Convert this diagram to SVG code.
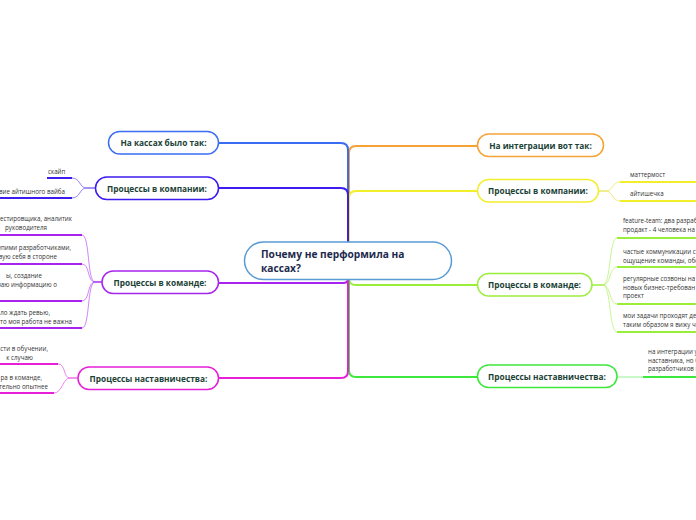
<svg xmlns="http://www.w3.org/2000/svg" width="696" height="520" viewBox="0 0 696 520">
<style>
.bg{fill:#ffffff}
.pill{fill:#ffffff;stroke-width:1.5}
.lbl{font-family:"Open Sans","Liberation Sans",sans-serif;font-weight:bold;font-size:8.3px;fill:#1b4236;text-anchor:middle}
.ctr{font-family:"Open Sans","Liberation Sans",sans-serif;font-weight:bold;font-size:10.2px;fill:#1c2a4e}
.sub{font-family:"Open Sans","Liberation Sans",sans-serif;font-size:6.2px;fill:#333333}
.end{text-anchor:end}
.trunk{fill:none;stroke-width:2}
.thin{fill:none;stroke-width:1;stroke-opacity:0.55}
.ul{fill:none;stroke-width:2}
</style>
<rect class="bg" x="0" y="0" width="696" height="520"/>

<g id="connectors">
  <!-- right main branches -->
  <path class="trunk" stroke="#f7a236" d="M349,242 V153 Q349,146 356,146 H477"/>
  <path class="trunk" stroke="#f2ee2a" d="M349,242 V198 Q349,191 356,191 H477"/>
  <path class="trunk" stroke="#9aee3a" d="M349,279 Q349,285 356,285 H477"/>
  <path class="trunk" stroke="#3ce83c" d="M349,279 V370 Q349,377 356,377 H477"/>
  <!-- left main branches -->
  <path class="trunk" stroke="#3a6cf4" d="M218,143 H341 Q348,143 348,150 V242"/>
  <path class="trunk" stroke="#3c1cf0" d="M218,188 H341 Q348,188 348,195 V242"/>
  <path class="trunk" stroke="#a824ee" d="M218,283 H343 Q348,283 348,279"/>
  <path class="trunk" stroke="#e81fd8" d="M218,378 H341 Q348,378 348,371 V279"/>

  <!-- left: компании subtopics -->
  <path class="thin" stroke="#3c1cf0" d="M95,188 H86 C80,188 80,178 72,178"/>
  <path class="thin" stroke="#3c1cf0" d="M95,188 H86 C80,188 80,198 72,198"/>
  <path class="ul" stroke="#3c1cf0" d="M47,178 H72"/>
  <path class="ul" stroke="#3c1cf0" d="M0,198 H72"/>

  <!-- left: команде subtopics -->
  <path class="thin" stroke="#a824ee" d="M102,282 H95 C87,282 90,235 82,235"/>
  <path class="thin" stroke="#a824ee" d="M102,282 H95 C87,282 90,264 82,264"/>
  <path class="thin" stroke="#a824ee" d="M102,282 H95 C87,282 90,301 82,301"/>
  <path class="thin" stroke="#a824ee" d="M102,282 H95 C87,282 90,328 82,328"/>
  <path class="ul" stroke="#a824ee" d="M0,235 H82"/>
  <path class="ul" stroke="#a824ee" d="M0,264 H82"/>
  <path class="ul" stroke="#a824ee" d="M0,301 H82"/>
  <path class="ul" stroke="#a824ee" d="M0,328 H82"/>

  <!-- left: наставничества subtopics -->
  <path class="thin" stroke="#e81fd8" d="M78,378 H70 C63,378 66,364 58,364"/>
  <path class="thin" stroke="#e81fd8" d="M78,378 H70 C63,378 62,393 54,393"/>
  <path class="ul" stroke="#e81fd8" d="M0,364 H58"/>
  <path class="ul" stroke="#e81fd8" d="M0,393 H54"/>

  <!-- right: компании subtopics -->
  <path class="thin" stroke="#e0dc10" d="M599,191 H606 C613,191 612,182 620,182"/>
  <path class="thin" stroke="#e0dc10" d="M599,191 H606 C613,191 612,201 620,201"/>
  <path class="ul" stroke="#f2ee2a" d="M620,182 H696"/>
  <path class="ul" stroke="#f2ee2a" d="M620,201 H696"/>

  <!-- right: команде subtopics -->
  <path class="thin" stroke="#9aee3a" d="M592,285 H603 C611,285 609,238 617,238"/>
  <path class="thin" stroke="#9aee3a" d="M592,285 H603 C611,285 609,267 617,267"/>
  <path class="thin" stroke="#9aee3a" d="M592,285 H603 C611,285 609,304 617,304"/>
  <path class="thin" stroke="#9aee3a" d="M592,285 H603 C611,285 609,332 617,332"/>
  <path class="ul" stroke="#9aee3a" d="M617,238 H696"/>
  <path class="ul" stroke="#9aee3a" d="M617,267 H696"/>
  <path class="ul" stroke="#9aee3a" d="M617,304 H696"/>
  <path class="ul" stroke="#9aee3a" d="M617,332 H696"/>

  <!-- right: наставничества subtopic -->
  <path class="thin" stroke="#3ce83c" d="M617,377 H643"/>
  <path class="ul" stroke="#3ce83c" d="M643,377 H696"/>
</g>

<g id="center">
  <rect class="pill" x="244.5" y="242" width="207" height="37.5" rx="18.75" fill="#f7fbff" stroke="#5b9bd5"/>
  <text class="ctr" x="261" y="258">Почему не перформила на</text>
  <text class="ctr" x="261" y="272">кассах?</text>
</g>

<g id="node-left-kassy">
  <rect class="pill" x="108.5" y="131.5" width="110" height="22.5" rx="11.25" stroke="#3a6cf4"/>
  <text class="lbl" x="163.5" y="146">На кассах было так:</text>
</g>
<g id="node-left-company">
  <rect class="pill" x="95.5" y="177" width="123" height="22.5" rx="11.25" stroke="#3c1cf0"/>
  <text class="lbl" x="157" y="191.5">Процессы в компании:</text>
</g>
<g id="node-left-team">
  <rect class="pill" x="102" y="271" width="116.5" height="22.5" rx="11.25" stroke="#a824ee"/>
  <text class="lbl" x="160" y="285.5">Процессы в команде:</text>
</g>
<g id="node-left-mentor">
  <rect class="pill" x="78" y="367" width="140.5" height="22.5" rx="11.25" stroke="#e81fd8"/>
  <text class="lbl" x="148.5" y="381.5">Процессы наставничества:</text>
</g>

<g id="node-right-integration">
  <rect class="pill" x="477.5" y="134" width="126" height="22.5" rx="11.25" stroke="#f7a236"/>
  <text class="lbl" x="540.5" y="148.5">На интеграции вот так:</text>
</g>
<g id="node-right-company">
  <rect class="pill" x="477.5" y="179.5" width="121" height="22.5" rx="11.25" stroke="#f2ee2a"/>
  <text class="lbl" x="538" y="194">Процессы в компании:</text>
</g>
<g id="node-right-team">
  <rect class="pill" x="477.5" y="273.5" width="114.5" height="22.5" rx="11.25" stroke="#9aee3a"/>
  <text class="lbl" x="534.5" y="288">Процессы в команде:</text>
</g>
<g id="node-right-mentor">
  <rect class="pill" x="477.5" y="365" width="139.5" height="22.5" rx="11.25" stroke="#3ce83c"/>
  <text class="lbl" x="547" y="379.5">Процессы наставничества:</text>
</g>

<g id="sub-left-company">
  <text class="sub" x="48" y="173.5">скайп</text>
  <text class="sub end" x="65" y="194">вие айтишного вайба</text>
</g>
<g id="sub-left-team">
  <text class="sub end" x="72" y="221">тестировщика, аналитик</text>
  <text class="sub end" x="47" y="230">руководителя</text>
  <text class="sub end" x="71" y="250">оупими разработчиками,</text>
  <text class="sub end" x="57" y="259">вую себя в стороне</text>
  <text class="sub end" x="42" y="278">ы, создание</text>
  <text class="sub end" x="57" y="287">ваю информацию о</text>
  <text class="sub end" x="50" y="315">ло ждать ревью,</text>
  <text class="sub end" x="72" y="324">что моя работа не важна</text>
</g>
<g id="sub-left-mentor">
  <text class="sub end" x="48" y="351">сти в обучении,</text>
  <text class="sub end" x="33" y="360">к случаю</text>
  <text class="sub end" x="42" y="380">ра в команде,</text>
  <text class="sub end" x="48" y="389">тельно опытнее</text>
</g>
<g id="sub-right-company">
  <text class="sub" x="630" y="176.5">маттермост</text>
  <text class="sub" x="630" y="196">айтишечка</text>
</g>
<g id="sub-right-team">
  <text class="sub" x="623" y="223">feature-team: два разраб</text>
  <text class="sub" x="623" y="231.5">продакт - 4 человека на с</text>
  <text class="sub" x="623" y="254">частые коммуникации с</text>
  <text class="sub" x="623" y="262.5">ощущение команды, обо</text>
  <text class="sub" x="623" y="281">регулярные созвоны на</text>
  <text class="sub" x="623" y="289.5">новых бизнес-требован</text>
  <text class="sub" x="623" y="298">проект</text>
  <text class="sub" x="623" y="318">мои задачи проходят дев</text>
  <text class="sub" x="623" y="326.5">таким образом я вижу чт</text>
</g>
<g id="sub-right-mentor">
  <text class="sub" x="648" y="354">на интеграции у</text>
  <text class="sub" x="648" y="362.5">наставника, но б</text>
  <text class="sub" x="648" y="371">разработчиков п</text>
</g>
</svg>
